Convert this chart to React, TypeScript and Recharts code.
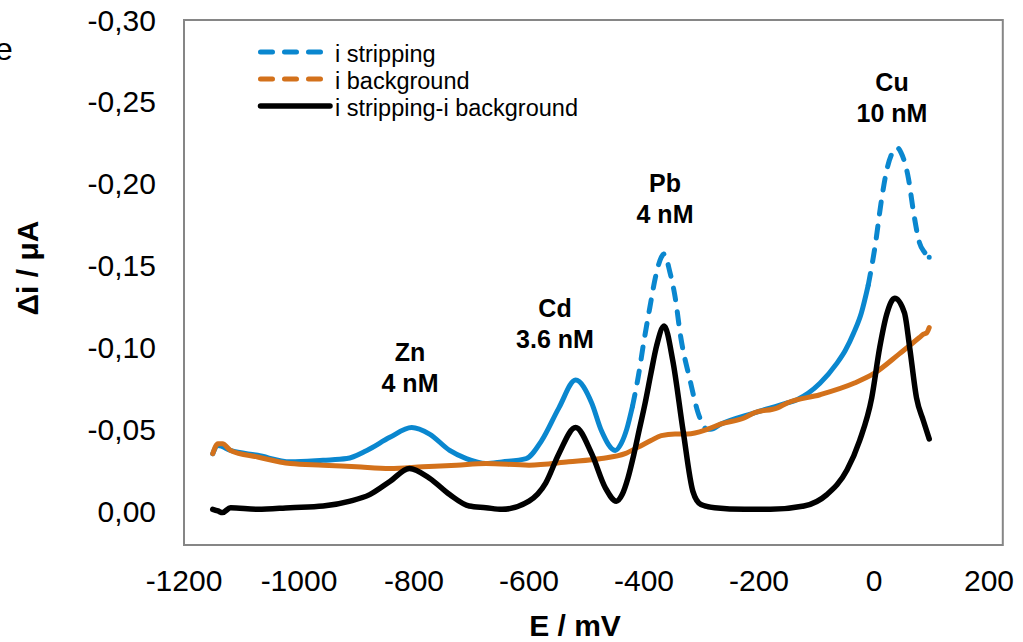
import { LineChart, Line, XAxis, YAxis, ReferenceArea } from 'recharts';

// potentials (mV) and currents (µA)
const E_STRIP = [
  -1150, -1141, -1119, -1072, -1015, -958, -917, -882, -842, -804, -773, -738, -709, -675,
  -647, -605, -578, -548, -519, -491, -474, -450, -440, -430, -420, -410, -400, -390, -380,
  -370, -365, -355, -346, -336, -320, -306, -293, -284, -267, -208, -151, -134, -94, -65,
  -50, -35, -22, -10, 2, 13, 22, 32, 40, 47, 60, 69, 79, 88, 96,
];
const I_STRIP = [
  -0.035, -0.040, -0.037, -0.034, -0.030, -0.031, -0.032, -0.037, -0.045, -0.051, -0.047, -0.037, -0.032, -0.029,
  -0.030, -0.032, -0.043, -0.063, -0.080, -0.066, -0.049, -0.037, -0.041, -0.050, -0.064, -0.082, -0.104, -0.124, -0.143,
  -0.155, -0.157, -0.146, -0.131, -0.106, -0.080, -0.060, -0.050, -0.050, -0.053, -0.060, -0.066, -0.068, -0.078, -0.090,
  -0.098, -0.109, -0.121, -0.138, -0.162, -0.190, -0.208, -0.219, -0.222, -0.219, -0.203, -0.182, -0.164, -0.158, -0.155,
];

const E_BACK = [
  -1150, -1141, -1133, -1119, -1072, -1015, -958, -900, -842, -785, -726, -675, -600, -531,
  -474, -433, -410, -388, -370, -346, -324, -289, -267, -225, -208, -168, -151, -94, -35, 0,
  44, 79, 86, 92, 96,
];
const I_BACK = [
  -0.035, -0.041, -0.041, -0.037, -0.033, -0.029, -0.028, -0.027, -0.026, -0.027, -0.028, -0.029, -0.028, -0.030,
  -0.032, -0.035, -0.039, -0.043, -0.046, -0.047, -0.047, -0.050, -0.053, -0.057, -0.060, -0.063, -0.066, -0.071, -0.078, -0.084,
  -0.096, -0.106, -0.108, -0.109, -0.112,
];

const E_DIFF = [
  -1150, -1141, -1133, -1119, -1072, -1015, -958, -911, -877, -842, -808, -773, -738, -704,
  -675, -647, -600, -571, -548, -519, -491, -467, -448, -438, -428, -418, -408, -398, -388,
  -378, -365, -350, -332, -315, -301, -277, -225, -180, -122, -82, -47, -25, -4, 10, 22,
  36, 53, 62, 74, 86, 96,
];
const I_DIFF = [
  -0.001, 0.0, 0.001, -0.002, -0.001, -0.002, -0.003, -0.006, -0.010, -0.018, -0.026, -0.020, -0.010, -0.003,
  -0.002, -0.001, -0.006, -0.017, -0.035, -0.051, -0.035, -0.014, -0.006, -0.010, -0.020, -0.034, -0.050, -0.066, -0.084,
  -0.101, -0.113, -0.092, -0.049, -0.012, -0.004, -0.002, -0.001, -0.001, -0.003, -0.010, -0.025, -0.043, -0.069, -0.100, -0.120,
  -0.130, -0.121, -0.100, -0.069, -0.055, -0.044,
];

// where the stripping curve shows up dashed (sparse points in Excel)
const DASHED_RANGES = [[-420, -293], [-10, 96]];

const X_TICKS = [-1200, -1000, -800, -600, -400, -200, 0, 200];
const Y_TICKS = [0, -0.05, -0.1, -0.15, -0.2, -0.25, -0.3];

const PEAK_NAMES = ['Zn', 'Cd', 'Pb', 'Cu'];
const PEAK_CONC = ['4 nM', '3.6 nM', '4 nM', '10 nM'];

const LEGEND_LABELS = ['i stripping', 'i background', 'i stripping-i background'];

const BLUE = '#0A87CF';
const ORANGE = '#D3711B';
const BLACK = '#000000';
const FONT = '"Liberation Sans", Arial, sans-serif';

// label spots (px), matched to the reference layout
const peakPos = [
  { x: 410, y: 361 },
  { x: 555, y: 317 },
  { x: 665, y: 192 },
  { x: 892, y: 91 },
];

export default function App() {
  const inDash = (e: number) => DASHED_RANGES.some(([a, b]) => e >= a && e <= b);
  const onEdge = (e: number) => DASHED_RANGES.some(([a, b]) => e === a || e === b);

  const stripRows = E_STRIP.map((E, k) => ({
    E,
    solid: !inDash(E) || onEdge(E) ? I_STRIP[k] : null,
    dashed: inDash(E) ? I_STRIP[k] : null,
  }));
  const backRows = E_BACK.map((E, k) => ({ E, i: I_BACK[k] }));
  const diffRows = E_DIFF.map((E, k) => ({ E, i: I_DIFF[k] }));

  const fmtY = (v: number) => v.toFixed(2).replace('.', ',');

  return (
    <div style={{ position: 'absolute', left: 0, top: 0, width: 1023, height: 642, background: '#fff', fontFamily: FONT }}>
      <LineChart width={1023} height={642} margin={{ top: 20, right: 34, bottom: 37, left: 94 }}>
        <XAxis
          dataKey="E"
          type="number"
          domain={[-1200, 200]}
          ticks={X_TICKS}
          allowDataOverflow
          axisLine={false}
          tickLine={false}
          tickSize={0}
          tickMargin={25}
          height={60}
          tick={{ fontSize: 30, fill: '#000', fontFamily: FONT }}
        />
        <YAxis
          type="number"
          reversed
          domain={[-0.3, 0.0208]}
          ticks={Y_TICKS}
          allowDataOverflow
          axisLine={false}
          tickLine={false}
          tickSize={0}
          tickMargin={28}
          width={90}
          tickFormatter={fmtY}
          tick={{ fontSize: 30, fill: '#000', fontFamily: FONT }}
        />
        <ReferenceArea x1={-1200} x2={224} y1={-0.3} y2={0.0208} fill="none" stroke="#868686" strokeWidth={2} ifOverflow="visible" />
        <Line data={stripRows} dataKey="solid" type="monotone" stroke={BLUE} strokeWidth={5} dot={false} activeDot={false} isAnimationActive={false} strokeLinecap="round" strokeLinejoin="round" />
        <Line data={stripRows} dataKey="dashed" type="monotone" stroke={BLUE} strokeWidth={5} strokeDasharray="12 12" dot={false} activeDot={false} isAnimationActive={false} strokeLinecap="round" />
        <Line data={backRows} dataKey="i" type="monotone" stroke={ORANGE} strokeWidth={5} dot={false} activeDot={false} isAnimationActive={false} strokeLinecap="round" strokeLinejoin="round" />
        <Line data={diffRows} dataKey="i" type="monotone" stroke={BLACK} strokeWidth={5.5} dot={false} activeDot={false} isAnimationActive={false} strokeLinecap="round" strokeLinejoin="round" />
      </LineChart>

      <svg width={1023} height={642} style={{ position: 'absolute', left: 0, top: 0, pointerEvents: 'none' }} fontFamily={FONT}>
        <text x={-5} y={60} fontSize={32} fill="#000">e</text>

        <text transform="translate(38,268) rotate(-90)" textAnchor="middle" fontSize={30} fontWeight="bold" fill="#000">
          Δi / μA
        </text>
        <text x={575} y={636} textAnchor="middle" fontSize={30} fontWeight="bold" fill="#000">
          E / mV
        </text>

        {PEAK_NAMES.map((name, k) => (
          <text key={name} x={peakPos[k].x} y={peakPos[k].y} textAnchor="middle" fontSize={25} fontWeight="bold" fill="#000">
            <tspan x={peakPos[k].x}>{name}</tspan>
            <tspan x={peakPos[k].x} dy={31}>{PEAK_CONC[k]}</tspan>
          </text>
        ))}

        {LEGEND_LABELS.map((lab, k) => {
          const y = 52 + k * 27;
          const color = [BLUE, ORANGE, BLACK][k];
          return (
            <g key={lab}>
              {k < 2 ? (
                <line x1={260.5} x2={320.5} y1={y} y2={y} stroke={color} strokeWidth={5} strokeDasharray="12 12" strokeLinecap="round" />
              ) : (
                <line x1={260.5} x2={330} y1={y} y2={y} stroke={color} strokeWidth={5.5} strokeLinecap="round" />
              )}
              <text x={335} y={y + 10} fontSize={23.5} fill="#000">{lab}</text>
            </g>
          );
        })}
      </svg>
    </div>
  );
}
